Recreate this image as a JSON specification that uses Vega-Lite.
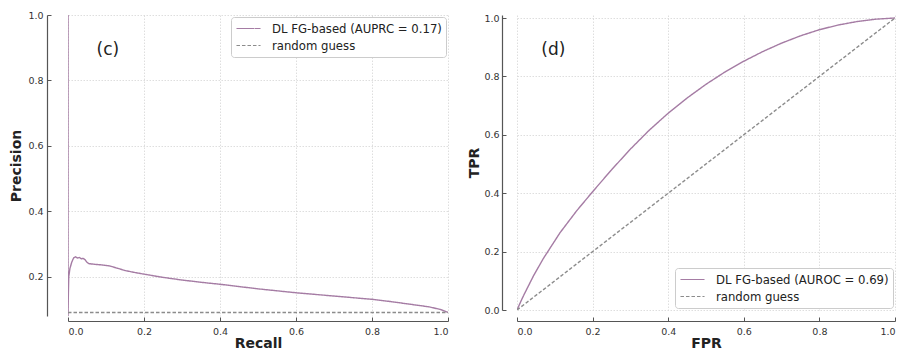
{
  "$schema": "https://vega.github.io/schema/vega-lite/v6.json",
  "padding": {"left": 9, "top": 10, "right": 0, "bottom": 0},
  "spacing": 18,
  "config": {
    "view": {"stroke": null},
    "font": "DejaVu Sans",
    "axis": {
      "labelFont": "DejaVu Sans", "labelFontSize": 9.5, "labelColor": "#333333",
      "titleFont": "DejaVu Sans", "titleFontSize": 14, "titleFontWeight": "bold", "titleColor": "#222222",
      "domainColor": "#555555", "domainWidth": 1.2, "tickColor": "#555555", "tickSize": -4, "tickWidth": 1,
      "gridColor": "#d6d6d6", "gridDash": [1.5, 1.5], "gridWidth": 0.8, "format": ".1f"
    },
    "axisX": {"labelPadding": 9, "titlePadding": 1},
    "axisY": {"labelPadding": 8, "titlePadding": 4},
    "legend": {
      "title": null, "fillColor": "white", "strokeColor": "#cccccc", "cornerRadius": 3, "padding": 4,
      "labelFont": "DejaVu Sans", "labelFontSize": 11.7, "labelColor": "#222222", "labelLimit": 400,
      "symbolType": "M-1.85,0H1.85", "symbolSize": 169, "symbolStrokeWidth": 1.2, "symbolOffset": 6,
      "rowPadding": 2, "labelOffset": 16, "offset": 2
    }
  },
  "datasets": {
    "pr": [
      {"recall": 0, "precision": 1.0, "series": "DL FG-based (AUPRC = 0.17)"},
      {"recall": 0, "precision": 0.08, "series": "DL FG-based (AUPRC = 0.17)"},
      {"recall": 0.001, "precision": 0.15, "series": "DL FG-based (AUPRC = 0.17)"},
      {"recall": 0.002, "precision": 0.2, "series": "DL FG-based (AUPRC = 0.17)"},
      {"recall": 0.005, "precision": 0.225, "series": "DL FG-based (AUPRC = 0.17)"},
      {"recall": 0.01, "precision": 0.245, "series": "DL FG-based (AUPRC = 0.17)"},
      {"recall": 0.015, "precision": 0.258, "series": "DL FG-based (AUPRC = 0.17)"},
      {"recall": 0.02, "precision": 0.261, "series": "DL FG-based (AUPRC = 0.17)"},
      {"recall": 0.025, "precision": 0.257, "series": "DL FG-based (AUPRC = 0.17)"},
      {"recall": 0.03, "precision": 0.259, "series": "DL FG-based (AUPRC = 0.17)"},
      {"recall": 0.035, "precision": 0.255, "series": "DL FG-based (AUPRC = 0.17)"},
      {"recall": 0.04, "precision": 0.256, "series": "DL FG-based (AUPRC = 0.17)"},
      {"recall": 0.045, "precision": 0.252, "series": "DL FG-based (AUPRC = 0.17)"},
      {"recall": 0.05, "precision": 0.244, "series": "DL FG-based (AUPRC = 0.17)"},
      {"recall": 0.055, "precision": 0.24, "series": "DL FG-based (AUPRC = 0.17)"},
      {"recall": 0.07, "precision": 0.238, "series": "DL FG-based (AUPRC = 0.17)"},
      {"recall": 0.09, "precision": 0.236, "series": "DL FG-based (AUPRC = 0.17)"},
      {"recall": 0.11, "precision": 0.233, "series": "DL FG-based (AUPRC = 0.17)"},
      {"recall": 0.13, "precision": 0.226, "series": "DL FG-based (AUPRC = 0.17)"},
      {"recall": 0.15, "precision": 0.219, "series": "DL FG-based (AUPRC = 0.17)"},
      {"recall": 0.18, "precision": 0.212, "series": "DL FG-based (AUPRC = 0.17)"},
      {"recall": 0.2, "precision": 0.208, "series": "DL FG-based (AUPRC = 0.17)"},
      {"recall": 0.25, "precision": 0.198, "series": "DL FG-based (AUPRC = 0.17)"},
      {"recall": 0.3, "precision": 0.19, "series": "DL FG-based (AUPRC = 0.17)"},
      {"recall": 0.35, "precision": 0.183, "series": "DL FG-based (AUPRC = 0.17)"},
      {"recall": 0.4, "precision": 0.177, "series": "DL FG-based (AUPRC = 0.17)"},
      {"recall": 0.45, "precision": 0.17, "series": "DL FG-based (AUPRC = 0.17)"},
      {"recall": 0.5, "precision": 0.163, "series": "DL FG-based (AUPRC = 0.17)"},
      {"recall": 0.55, "precision": 0.157, "series": "DL FG-based (AUPRC = 0.17)"},
      {"recall": 0.6, "precision": 0.151, "series": "DL FG-based (AUPRC = 0.17)"},
      {"recall": 0.65, "precision": 0.146, "series": "DL FG-based (AUPRC = 0.17)"},
      {"recall": 0.7, "precision": 0.141, "series": "DL FG-based (AUPRC = 0.17)"},
      {"recall": 0.75, "precision": 0.136, "series": "DL FG-based (AUPRC = 0.17)"},
      {"recall": 0.8, "precision": 0.131, "series": "DL FG-based (AUPRC = 0.17)"},
      {"recall": 0.85, "precision": 0.124, "series": "DL FG-based (AUPRC = 0.17)"},
      {"recall": 0.9, "precision": 0.116, "series": "DL FG-based (AUPRC = 0.17)"},
      {"recall": 0.95, "precision": 0.108, "series": "DL FG-based (AUPRC = 0.17)"},
      {"recall": 0.98, "precision": 0.1, "series": "DL FG-based (AUPRC = 0.17)"},
      {"recall": 1.0, "precision": 0.091, "series": "DL FG-based (AUPRC = 0.17)"},
      {"recall": 0, "precision": 0.0905, "series": "random guess"},
      {"recall": 1.0, "precision": 0.0905, "series": "random guess"}
    ],
    "roc": [
      {"fpr": 0, "tpr": 0, "series": "DL FG-based (AUROC = 0.69)"},
      {"fpr": 0.01, "tpr": 0.029, "series": "DL FG-based (AUROC = 0.69)"},
      {"fpr": 0.0176, "tpr": 0.05, "series": "DL FG-based (AUROC = 0.69)"},
      {"fpr": 0.044, "tpr": 0.118, "series": "DL FG-based (AUROC = 0.69)"},
      {"fpr": 0.07, "tpr": 0.177, "series": "DL FG-based (AUROC = 0.69)"},
      {"fpr": 0.114, "tpr": 0.265, "series": "DL FG-based (AUROC = 0.69)"},
      {"fpr": 0.158, "tpr": 0.34, "series": "DL FG-based (AUROC = 0.69)"},
      {"fpr": 0.2, "tpr": 0.405, "series": "DL FG-based (AUROC = 0.69)"},
      {"fpr": 0.25, "tpr": 0.48, "series": "DL FG-based (AUROC = 0.69)"},
      {"fpr": 0.3, "tpr": 0.551, "series": "DL FG-based (AUROC = 0.69)"},
      {"fpr": 0.35, "tpr": 0.616, "series": "DL FG-based (AUROC = 0.69)"},
      {"fpr": 0.4, "tpr": 0.674, "series": "DL FG-based (AUROC = 0.69)"},
      {"fpr": 0.45, "tpr": 0.726, "series": "DL FG-based (AUROC = 0.69)"},
      {"fpr": 0.5, "tpr": 0.773, "series": "DL FG-based (AUROC = 0.69)"},
      {"fpr": 0.55, "tpr": 0.815, "series": "DL FG-based (AUROC = 0.69)"},
      {"fpr": 0.6, "tpr": 0.852, "series": "DL FG-based (AUROC = 0.69)"},
      {"fpr": 0.65, "tpr": 0.885, "series": "DL FG-based (AUROC = 0.69)"},
      {"fpr": 0.7, "tpr": 0.914, "series": "DL FG-based (AUROC = 0.69)"},
      {"fpr": 0.75, "tpr": 0.939, "series": "DL FG-based (AUROC = 0.69)"},
      {"fpr": 0.8, "tpr": 0.96, "series": "DL FG-based (AUROC = 0.69)"},
      {"fpr": 0.85, "tpr": 0.976, "series": "DL FG-based (AUROC = 0.69)"},
      {"fpr": 0.9, "tpr": 0.988, "series": "DL FG-based (AUROC = 0.69)"},
      {"fpr": 0.95, "tpr": 0.996, "series": "DL FG-based (AUROC = 0.69)"},
      {"fpr": 1.0, "tpr": 1.0, "series": "DL FG-based (AUROC = 0.69)"},
      {"fpr": 0, "tpr": 0, "series": "random guess"},
      {"fpr": 1.0, "tpr": 1.0, "series": "random guess"}
    ]
  },
  "resolve": {
    "scale": {"color": "independent", "strokeDash": "independent", "x": "independent", "y": "independent"},
    "legend": {"color": "independent", "strokeDash": "independent"}
  },
  "hconcat": [
    {
      "width": 380,
      "height": 301,
      "layer": [
        {
          "data": {"name": "pr"},
          "mark": {"type": "line", "strokeWidth": 1.4, "clip": true},
          "encoding": {
            "x": {"field": "recall", "type": "quantitative", "scale": {"domain": [0, 1]},
                  "axis": {"title": "Recall", "values": [0, 0.2, 0.4, 0.6, 0.8, 1.0], "offset": 5}},
            "y": {"field": "precision", "type": "quantitative", "scale": {"domain": [0.08, 1.0]},
                  "axis": {"title": "Precision", "values": [0.2, 0.4, 0.6, 0.8, 1.0], "offset": 21}},
            "order": {"value": null},
            "color": {"field": "series", "type": "nominal",
                      "scale": {"domain": ["DL FG-based (AUPRC = 0.17)", "random guess"], "range": ["#a57ca4", "#8c8c8c"]},
                      "legend": {"orient": "top-right"}},
            "strokeDash": {"field": "series", "type": "nominal",
                           "scale": {"domain": ["DL FG-based (AUPRC = 0.17)", "random guess"], "range": [[1, 0], [3.5, 2]]},
                           "legend": {"orient": "top-right"}}
          }
        },
        {
          "data": {"values": [{"recall": 0.105, "precision": 0.893, "label": "(c)"}]},
          "mark": {"type": "text", "fontSize": 17, "font": "DejaVu Sans", "color": "#222222"},
          "encoding": {
            "x": {"field": "recall", "type": "quantitative", "scale": {"domain": [0, 1]}},
            "y": {"field": "precision", "type": "quantitative", "scale": {"domain": [0.08, 1.0]}},
            "text": {"field": "label"}
          }
        }
      ]
    },
    {
      "width": 378,
      "height": 295,
      "layer": [
        {
          "data": {"name": "roc"},
          "mark": {"type": "line", "strokeWidth": 1.4, "clip": true},
          "encoding": {
            "x": {"field": "fpr", "type": "quantitative", "scale": {"domain": [0, 1]},
                  "axis": {"title": "FPR", "values": [0, 0.2, 0.4, 0.6, 0.8, 1.0], "offset": 11}},
            "y": {"field": "tpr", "type": "quantitative", "scale": {"domain": [0, 1.0103]},
                  "axis": {"title": "TPR", "values": [0, 0.2, 0.4, 0.6, 0.8, 1.0], "offset": 15, "labelPadding": 7, "titlePadding": 2}},
            "order": {"value": null},
            "color": {"field": "series", "type": "nominal",
                      "scale": {"domain": ["DL FG-based (AUROC = 0.69)", "random guess"], "range": ["#a57ca4", "#8c8c8c"]},
                      "legend": {"orient": "bottom-right"}},
            "strokeDash": {"field": "series", "type": "nominal",
                           "scale": {"domain": ["DL FG-based (AUROC = 0.69)", "random guess"], "range": [[1, 0], [3.5, 2]]},
                           "legend": {"orient": "bottom-right"}}
          }
        },
        {
          "data": {"values": [{"fpr": 0.096, "tpr": 0.89, "label": "(d)"}]},
          "mark": {"type": "text", "fontSize": 17, "font": "DejaVu Sans", "color": "#222222"},
          "encoding": {
            "x": {"field": "fpr", "type": "quantitative", "scale": {"domain": [0, 1]}},
            "y": {"field": "tpr", "type": "quantitative", "scale": {"domain": [0, 1.0103]}},
            "text": {"field": "label"}
          }
        }
      ]
    }
  ]
}
